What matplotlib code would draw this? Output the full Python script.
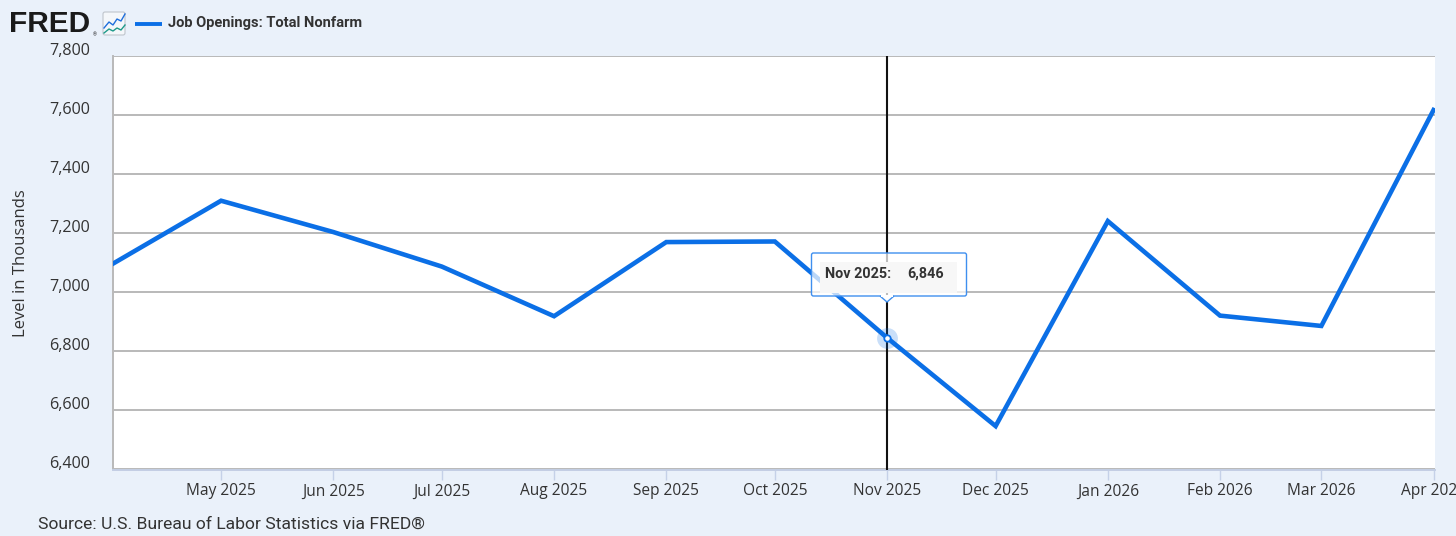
import matplotlib
matplotlib.use("Agg")
import matplotlib.pyplot as plt
import matplotlib.dates as mdates
from matplotlib.patches import FancyBboxPatch, Rectangle, Polygon, Circle
from matplotlib.transforms import ScaledTranslation
from datetime import date

dates = [date(2025, 4, 1), date(2025, 5, 1), date(2025, 6, 1), date(2025, 7, 1),
         date(2025, 8, 1), date(2025, 9, 1), date(2025, 10, 1), date(2025, 11, 1),
         date(2025, 12, 1), date(2026, 1, 1), date(2026, 2, 1), date(2026, 3, 1),
         date(2026, 4, 1)]
openings = [7096, 7310, 7204, 7087, 6919, 7170, 7172, 6846, 6547, 7241, 6921, 6886, 7617]
tick_dates = dates[1:]
tick_labels = ["May 2025", "Jun 2025", "Jul 2025", "Aug 2025", "Sep 2025", "Oct 2025",
               "Nov 2025", "Dec 2025", "Jan 2026", "Feb 2026", "Mar 2026", "Apr 2026"]
y_ticks = [6400, 6600, 6800, 7000, 7200, 7400, 7600, 7800]
highlight = date(2025, 11, 1)
highlight_value = 6846

BG = "#EAF1FA"
BLUE = "#0B6FE6"
GRID = "#B9B9B9"
TXT = "#333333"

W, H = 1456, 536
fig = plt.figure(figsize=(W / 100, H / 100), dpi=100, facecolor=BG)

L, R, T, B = 112.5, 1435, 56, 469.5
ax = fig.add_axes([L / W, 1 - B / H, (R - L) / W, (B - T) / H], facecolor="white")
ax.set_xlim(mdates.date2num(dates[0]), mdates.date2num(dates[-1]) + 0.4)
ax.set_ylim(6400, 7800)
ax.set_yticks(y_ticks)
ax.set_yticklabels([f"{v:,}" for v in y_ticks], fontfamily="Open Sans", fontsize=11.6, color=TXT)
ax.set_xticks([mdates.date2num(d) for d in tick_dates])
ax.set_xticklabels(tick_labels, fontfamily="Open Sans", fontsize=11.2, color=TXT)
ax.tick_params(axis="y", length=0, pad=16)
ax.tick_params(axis="x", length=7, width=1, color="#C5D1E8", pad=3)
ax.grid(axis="y", color=GRID, lw=1.4)
ax.set_axisbelow(True)
for s in ("top", "right"):
    ax.spines[s].set_visible(False)
ax.spines["left"].set_color(GRID)
ax.spines["left"].set_linewidth(1.4)
ax.spines["bottom"].set_color("#C3CEE4")
ax.spines["bottom"].set_linewidth(1.4)
shift = ScaledTranslation(0, 7 / 100, fig.dpi_scale_trans)
for lab in ax.get_yticklabels():
    lab.set_transform(lab.get_transform() + shift)

xh = mdates.date2num(highlight)
ax.axvline(xh, color="#111111", lw=1.5, zorder=3)
ax.plot([mdates.date2num(d) for d in dates], openings, color=BLUE, lw=3.3,
        solid_joinstyle="miter", zorder=4, clip_on=True)
ax.plot([xh], [highlight_value], "o", ms=15, color=BLUE, alpha=0.22, mew=0, zorder=5)
ax.plot([xh], [highlight_value], "o", ms=4.6, mfc="white", mec=BLUE, mew=1.3, zorder=6)
ax.set_ylabel("Level in Thousands", fontfamily="Open Sans", fontsize=12, color=TXT, labelpad=0)
ax.yaxis.set_label_coords((29 - L) / (R - L), 0.5)

# overlay in pixel coordinates
ov = fig.add_axes([0, 0, 1, 1], facecolor="none")
ov.set_xlim(0, W)
ov.set_ylim(H, 0)
ov.axis("off")

# tooltip
box = FancyBboxPatch((811.5, 253), 155, 43, boxstyle="round,pad=0,rounding_size=2",
                     fc=(1, 1, 1, 0.72), ec="#3F8FEF", lw=1.0, zorder=7)
ov.add_patch(box)
ov.add_patch(Rectangle((820, 262), 137, 31, fc="#F7F7F7", ec="none", zorder=8))
ov.add_patch(Polygon([[880, 296], [887, 302], [894, 296]], closed=False, fc="white",
                     ec="#3F8FEF", lw=1.0, zorder=9))
ov.add_patch(Rectangle((881, 294.5), 12, 2, fc="white", ec="none", zorder=9))
ov.text(825, 274, "Nov 2025:", family="Roboto", weight="bold", fontsize=10.4, color=TXT,
        va="center", ha="left", zorder=10)
ov.text(907, 274, "6,846", family="Roboto", weight="bold", fontsize=10.4, color=TXT,
        va="center", ha="left", zorder=10)

# header: logo, icon, legend
ov.text(9, 24.5, "FRED", family="Liberation Sans", weight="bold", fontsize=21.5, color="#1A1A1A",
        va="center", ha="left")
ov.text(93, 35, "®", family="Roboto", fontsize=3.5, color="#1A1A1A", va="center", ha="left")
ov.add_patch(FancyBboxPatch((103, 12), 22, 23, boxstyle="round,pad=0,rounding_size=2",
                            fc="#F4F7FA", ec="#BFC5CC", lw=0.8))
ov.plot([104, 109, 113, 117, 121, 125], [28, 22, 25, 19, 21, 14], color="#1F6FDC", lw=1.0)
ov.plot([104, 109, 113, 117, 121, 125], [33, 29, 31, 28, 30, 25], color="#1E9A8A", lw=1.0)
ov.plot([135, 162], [23.5, 23.5], color=BLUE, lw=2.8, solid_capstyle="butt")
ov.text(168, 23, "Job Openings: Total Nonfarm", family="Roboto", weight="bold", fontsize=10.5,
        color=TXT, va="center", ha="left")

# source
ov.text(38, 524.5, "Source: U.S. Bureau of Labor Statistics via FRED®", family="Roboto",
        fontsize=12.6, color=TXT, va="center", ha="left")

fig.savefig("out.png", dpi=100, facecolor=BG)
